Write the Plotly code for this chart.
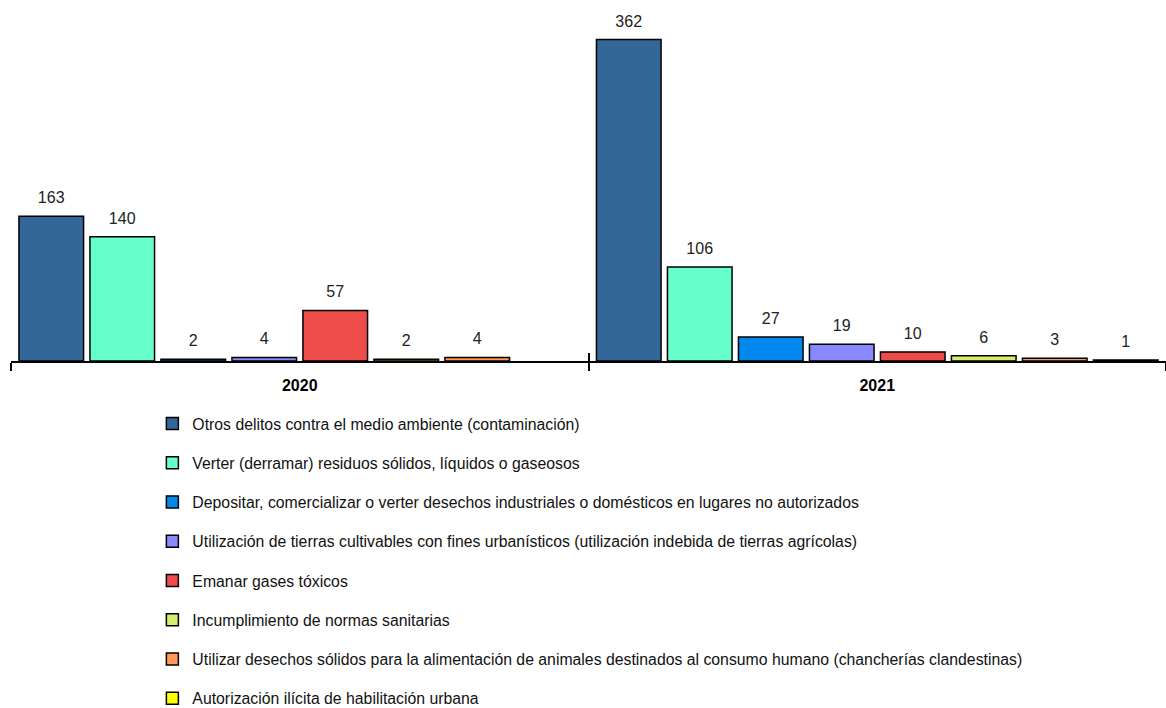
import plotly.graph_objects as go

years = ["2020", "2021"]
series_names = [
    "Otros delitos contra el medio ambiente (contaminación)",
    "Verter (derramar) residuos sólidos, líquidos o gaseosos",
    "Depositar, comercializar o verter desechos industriales o domésticos en lugares no autorizados",
    "Utilización de tierras cultivables con fines urbanísticos (utilización indebida de tierras agrícolas)",
    "Emanar gases tóxicos",
    "Incumplimiento de normas sanitarias",
    "Utilizar desechos sólidos para la alimentación de animales destinados al consumo humano (chancherías clandestinas)",
    "Autorización ilícita de habilitación urbana",
]
otros = [163, 362]
verter = [140, 106]
depositar = [2, 27]
utilizacion = [4, 19]
emanar = [57, 10]
incumplimiento = [2, 6]
utilizar_desechos = [4, 3]
autorizacion = [None, 1]
series_values = [otros, verter, depositar, utilizacion, emanar, incumplimiento, utilizar_desechos, autorizacion]
colors = ["#336699", "#66FFCC", "#0088EE", "#8888FF", "#EE4B4B", "#D4EE6E", "#FF9955", "#FFFF00"]

FONT = "Liberation Sans, Arial, sans-serif"

fig = go.Figure()
for name, vals, col in zip(series_names, series_values, colors):
    fig.add_trace(go.Bar(
        x=years, y=vals, name=name, legendgroup=name,
        marker=dict(color=col, line=dict(color="black", width=1.5)),
        texttemplate="<span style='font-size:16px'>%{y}</span><br>\u00a0",
        textposition="outside", cliponaxis=False,
        textfont=dict(family=FONT, size=7, color="#222222"),
    ))

# overlay axis to draw ticks crossing the axis line
fig.add_trace(go.Scatter(x=years, y=[None, None], xaxis="x2", mode="lines",
                         showlegend=False, hoverinfo="skip"))

fig.update_layout(
    width=1166, height=708,
    paper_bgcolor="white", plot_bgcolor="white",
    margin=dict(l=11, r=0, t=5, b=347, autoexpand=False),
    barmode="group", bargap=0.0165, bargroupgap=0.09,
    font=dict(family=FONT, size=15.8, color="black"),
    showlegend=True,
    legend=dict(
        x=0.1224, xanchor="left", y=-0.1287, yanchor="top",
        traceorder="grouped", tracegroupgap=15.7,
        font=dict(family=FONT, size=15.8, color="#111111"),
        itemwidth=30,
    ),
    xaxis=dict(
        type="category", categoryarray=years, range=[-0.5, 1.5],
        showline=True, linecolor="black", linewidth=1.5,
        ticks="outside", ticklen=8, tickcolor="black", tickwidth=1.5,
        tickson="boundaries",
        tickfont=dict(family=FONT, size=16, color="black", weight="bold"),
        ticklabelstandoff=9,
        showgrid=False, zeroline=False,
    ),
    xaxis2=dict(
        type="category", categoryarray=years, range=[-0.5, 1.5],
        overlaying="x", side="bottom",
        ticks="inside", ticklen=8, tickcolor="black", tickwidth=1.5,
        tickson="boundaries", showticklabels=False,
        showline=False, showgrid=False, zeroline=False,
    ),
    yaxis=dict(range=[0, 401], visible=False, showgrid=False, zeroline=False),
)

fig.write_html(
    "out.html",
    config={"displayModeBar": False},
    post_script="document.body.style.margin='0';document.body.style.overflow='hidden';",
)
